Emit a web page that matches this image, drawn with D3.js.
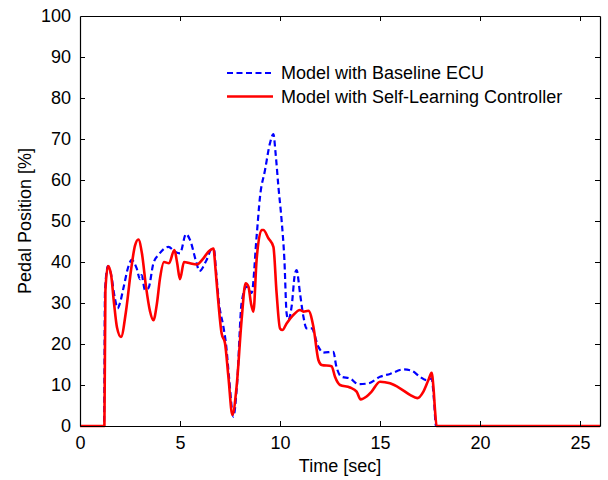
<!DOCTYPE html>
<html>
<head>
<meta charset="utf-8">
<script src="https://cdn.jsdelivr.net/npm/d3@7"></script>
<style>
  html, body { margin: 0; padding: 0; background: #fff; }
  svg { display: block; }
  text { font-family: "Liberation Sans", Arial, sans-serif; fill: #000; }
</style>
</head>
<body>
<svg id="chart" width="608" height="480"></svg>
<script>
// Pedal position traces (time in seconds, position in %)
const baselineTime = [0, 1.2, 1.25, 1.4, 1.55, 1.75, 1.88, 2.0, 2.17, 2.42, 2.58, 2.83, 3.0, 3.08, 3.25, 3.42, 3.67, 3.92, 4.42, 4.75, 5.0, 5.3, 5.5, 5.83, 5.97, 6.33, 6.58, 6.7, 6.8, 6.95, 7.17, 7.3, 7.45, 7.67, 7.85, 8.08, 8.33, 8.58, 8.83, 9.0, 9.25, 9.5, 9.67, 9.78, 9.92, 10.08, 10.22, 10.33, 10.42, 10.58, 10.75, 10.83, 11.0, 11.17, 11.33, 11.58, 11.92, 12.17, 12.67, 12.8, 13.08, 13.5, 13.92, 14.42, 15.0, 15.5, 16.17, 16.58, 17.0, 17.33, 17.58, 17.7, 17.8, 26];
const baselineValue = [0, 0, 33, 39, 37, 31, 28.7, 30, 33.6, 38.9, 40.5, 38.5, 35.8, 36.8, 33.2, 33.6, 39.7, 41.7, 43.7, 42.5, 42.1, 46.8, 45.4, 39.7, 37.8, 40.5, 43.1, 43, 38, 30, 24.2, 20, 12, 2.3, 10, 30, 34, 32.4, 46.2, 55.9, 62.4, 69, 71.2, 66.5, 58.4, 50.2, 40.5, 27.5, 25.9, 29.1, 37.2, 38, 32.4, 26.7, 23.8, 23.8, 19.3, 17.9, 18.1, 14.9, 12, 11.6, 10.2, 10.4, 12, 12.7, 13.8, 13.5, 12, 11.2, 11.6, 6.3, 0, 0];

const learningTime = [0, 1.22, 1.27, 1.4, 1.55, 1.7, 1.85, 2.05, 2.3, 2.55, 2.75, 2.92, 3.1, 3.3, 3.5, 3.67, 3.85, 4.0, 4.2, 4.45, 4.72, 4.85, 5.0, 5.2, 5.5, 5.83, 6.17, 6.42, 6.67, 6.78, 6.92, 7.08, 7.25, 7.42, 7.62, 7.83, 8.08, 8.28, 8.42, 8.55, 8.67, 8.83, 9.08, 9.17, 9.42, 9.67, 9.83, 10.0, 10.12, 10.33, 10.67, 11.0, 11.17, 11.42, 11.67, 11.92, 12.08, 12.58, 12.75, 13.0, 13.5, 13.83, 14.03, 14.33, 14.58, 15.0, 15.5, 16.0, 16.5, 16.87, 17.17, 17.42, 17.58, 17.67, 17.75, 17.83, 26];
const learningValue = [0, 0, 33, 39, 37, 30, 24, 21.7, 28, 38, 44, 45.5, 42, 34, 28, 25.8, 30, 36, 40, 39.7, 42.9, 40, 35.8, 40, 39.7, 39.4, 40.9, 42.5, 43.3, 38, 30, 22.6, 20.2, 12, 2.7, 9.6, 25.9, 34.8, 34, 29.9, 27.9, 40.5, 47.8, 47.8, 45.8, 43.7, 32.4, 23.8, 23.4, 25, 27.1, 28.3, 27.9, 28.1, 24.2, 16.1, 14.9, 14.6, 12, 10, 9.4, 8.4, 6.5, 7.2, 8.4, 10.8, 10.4, 9.2, 7.6, 6.8, 8.4, 11.2, 13, 9.6, 3.9, 0, 0];

const xTicks = [0, 5, 10, 15, 20, 25];
const yTicks = [0, 10, 20, 30, 40, 50, 60, 70, 80, 90, 100];
const seriesNames = ["Model with Baseline ECU", "Model with Self-Learning Controller"];

const svg = d3.select("#chart");
const margin = { left: 80, right: 8, top: 16, bottom: 54 };
const W = 608, H = 480;

const x = d3.scaleLinear().domain([0, 26]).range([margin.left, W - margin.right]);
const y = d3.scaleLinear().domain([0, 100]).range([H - margin.bottom, margin.top]);

const fontSize = 18;
const tickLen = 5;

// Traces
const line = d3.line()
  .x(d => x(d[0]))
  .y(d => y(d[1]))
  .curve(d3.curveMonotoneX);

const baseline = baselineTime.map((t, i) => [t, baselineValue[i]]);
const learning = learningTime.map((t, i) => [t, learningValue[i]]);

svg.append("path")
  .datum(baseline)
  .attr("d", line)
  .attr("fill", "none")
  .attr("stroke", "#0000ff")
  .attr("stroke-width", 2.2)
  .attr("stroke-dasharray", "6,3.5");

svg.append("path")
  .datum(learning)
  .attr("d", line)
  .attr("fill", "none")
  .attr("stroke", "#ff0000")
  .attr("stroke-width", 2.6)
  .attr("stroke-linejoin", "round");

// Axes on all four sides, ticks pointing inward
const axisBottomG = svg.append("g")
  .attr("transform", `translate(0,${y(0)})`)
  .call(d3.axisBottom(x).tickValues(xTicks).tickSizeInner(-tickLen).tickSizeOuter(0).tickPadding(10));
const axisTopG = svg.append("g")
  .attr("transform", `translate(0,${y(100)})`)
  .call(d3.axisTop(x).tickValues(xTicks).tickSizeInner(-tickLen).tickSizeOuter(0).tickFormat(""));
const axisLeftG = svg.append("g")
  .attr("transform", `translate(${x(0)},0)`)
  .call(d3.axisLeft(y).tickValues(yTicks).tickSizeInner(-tickLen).tickSizeOuter(0).tickPadding(9));
const axisRightG = svg.append("g")
  .attr("transform", `translate(${x(26)},0)`)
  .call(d3.axisRight(y).tickValues(yTicks).tickSizeInner(-tickLen).tickSizeOuter(0).tickFormat(""));

[axisBottomG, axisTopG, axisLeftG, axisRightG].forEach(g => {
  g.selectAll("path.domain").attr("stroke", "#000").attr("stroke-width", 1.2);
  g.selectAll(".tick line").attr("stroke", "#000").attr("stroke-width", 1);
  g.selectAll(".tick text")
    .style("font-family", "'Liberation Sans', Arial, sans-serif")
    .style("font-size", fontSize + "px")
    .attr("fill", "#000");
});
// Drop tick marks at the corners where they would sit on the frame
axisBottomG.selectAll(".tick line").filter(d => d === 0).remove();
axisTopG.selectAll(".tick line").filter(d => d === 0).remove();
axisLeftG.selectAll(".tick line").filter(d => d === 0 || d === 100).remove();
axisRightG.selectAll(".tick line").filter(d => d === 0 || d === 100).remove();

// Axis titles
svg.append("text")
  .attr("x", (x(0) + x(26)) / 2)
  .attr("y", 472)
  .attr("text-anchor", "middle")
  .style("font-size", fontSize + "px")
  .text("Time [sec]");

svg.append("text")
  .attr("transform", `translate(31,${(y(0) + y(100)) / 2}) rotate(-90)`)
  .attr("text-anchor", "middle")
  .style("font-size", fontSize + "px")
  .text("Pedal Position [%]");

// Legend
const legend = svg.append("g").attr("transform", "translate(227,73)");
const legendItems = [
  { name: seriesNames[0], color: "#0000ff", dash: "6,3.5", width: 2.2 },
  { name: seriesNames[1], color: "#ff0000", dash: null, width: 2.6 }
];
legendItems.forEach((item, i) => {
  const gy = i * 23.5;
  legend.append("line")
    .attr("x1", 0).attr("x2", 46)
    .attr("y1", gy).attr("y2", gy)
    .attr("stroke", item.color)
    .attr("stroke-width", item.width)
    .attr("stroke-dasharray", item.dash);
  legend.append("text")
    .attr("x", 54)
    .attr("y", gy)
    .attr("dy", "0.35em")
    .style("font-size", fontSize + "px")
    .text(item.name);
});
</script>
</body>
</html>
